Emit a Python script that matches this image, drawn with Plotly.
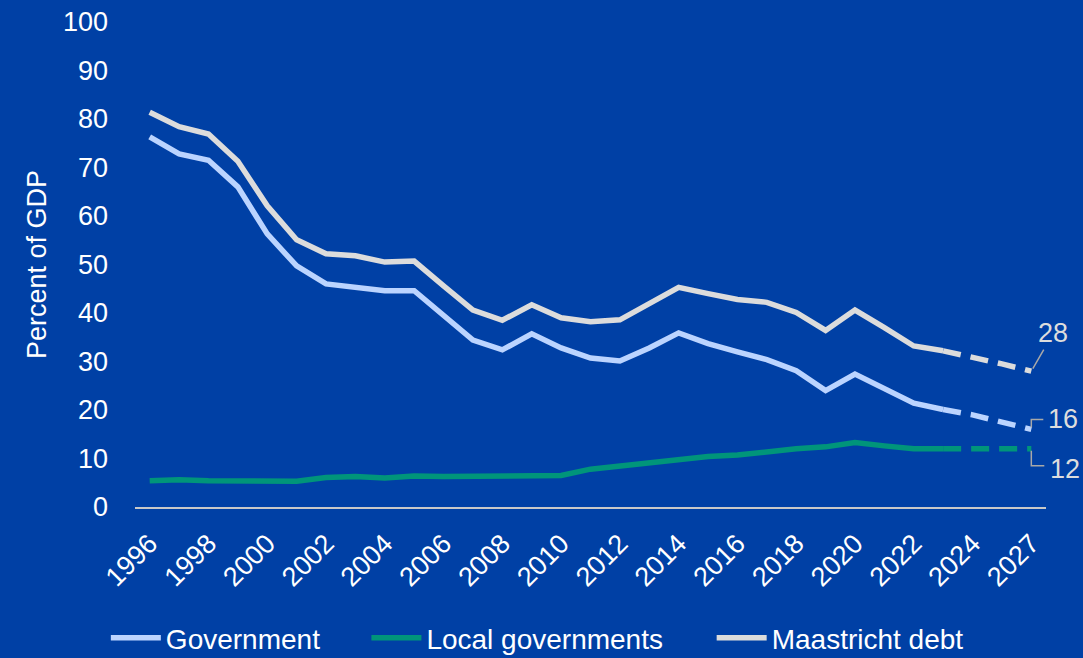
import plotly.graph_objects as go

years = [str(y) for y in range(1996, 2025)] + ["2025", "2027"]
tick_labels = [str(y) for y in range(1996, 2025, 2)] + ["2027"]

government = [76.3, 72.8, 71.5, 66.0, 56.3, 49.7, 46.0, 45.4, 44.6, 44.6,
              39.6, 34.4, 32.4, 35.7, 32.8, 30.7, 30.1, 32.8, 35.9, 33.7,
              32.0, 30.4, 28.1, 24.0, 27.4, 24.5, 21.4, 20.1, 19.0, 17.5, 16.0]
local_gov = [5.4, 5.6, 5.4, 5.4, 5.5, 5.3, 6.1, 6.3, 6.0, 6.4,
             6.3, 6.3, 6.3, 6.3, 6.5, 7.8, 8.5, 9.1, 9.7, 10.4,
             10.7, 11.4, 12.0, 12.4, 13.3, 12.6, 12.0, 12.0, 12.0, 12.0, 12.0]
maastricht = [81.4, 78.4, 76.9, 71.3, 62.1, 55.1, 52.2, 51.8, 50.5, 50.7,
              45.6, 40.6, 38.5, 41.7, 39.0, 38.2, 38.6, 41.8, 45.3, 44.0,
              42.8, 42.2, 40.1, 36.4, 40.6, 37.0, 33.2, 32.2, 30.9, 29.5, 28.0]

series = [
    ("Government", government, "#BBD4FF", "legend"),
    ("Local governments", local_gov, "#00957A", "legend2"),
    ("Maastricht debt", maastricht, "#DCDCDC", "legend3"),
]
n_actual = 28  # 1996-2023 solid, rest forecast (dashed)

BG = "#0040A5"
FONT = "Liberation Sans"

fig = go.Figure()
for name, vals, col, lg in series:
    fig.add_trace(go.Scatter(
        x=years[:n_actual], y=vals[:n_actual], mode="lines", name=name,
        legend=lg, line=dict(color=col, width=5.5), hoverinfo="skip"))
for name, vals, col, lg in series:
    fig.add_trace(go.Scatter(
        x=years[n_actual - 1:], y=vals[n_actual - 1:], mode="lines", name=name,
        showlegend=False, line=dict(color=col, width=5.5, dash="18px,10px"),
        hoverinfo="skip"))

last_idx = len(years) - 1
lbl_col = "#DDDDDD"
conn_col = "#A8A8A8"
# 28 label with straight leader
fig.add_annotation(x=last_idx, y=maastricht[-1], text=str(round(maastricht[-1])),
                   showarrow=True, arrowhead=0, arrowwidth=1.5, arrowcolor=conn_col,
                   ax=22, ay=-38, standoff=3,
                   font=dict(family=FONT, size=27, color=lbl_col))
# 16 label with elbow
fig.add_annotation(x=last_idx, y=government[-1], text=str(round(government[-1])),
                   showarrow=False, xanchor="left", xshift=15, yshift=10,
                   font=dict(family=FONT, size=27, color=lbl_col))
fig.add_shape(type="path", xref="x", yref="y", xsizemode="pixel", ysizemode="pixel",
              xanchor=last_idx, yanchor=government[-1],
              path="M0,2 L0,10 L12,10", line=dict(color=conn_col, width=1.5))
# 12 label with elbow
fig.add_annotation(x=last_idx, y=local_gov[-1], text=str(round(local_gov[-1])),
                   showarrow=False, xanchor="left", xshift=17, yshift=-20,
                   font=dict(family=FONT, size=27, color=lbl_col))
fig.add_shape(type="path", xref="x", yref="y", xsizemode="pixel", ysizemode="pixel",
              xanchor=last_idx, yanchor=local_gov[-1],
              path="M0,-2 L0,-17 L13,-17", line=dict(color=conn_col, width=1.5))

legend_common = dict(orientation="h", xanchor="left", y=-0.27, yanchor="middle",
                      font=dict(family=FONT, size=28, color="white"),
                      bgcolor="rgba(0,0,0,0)", itemwidth=50)

fig.update_layout(
    width=1083, height=658,
    paper_bgcolor=BG, plot_bgcolor=BG,
    margin=dict(l=135, r=37, t=22, b=151, autoexpand=False),
    font=dict(family=FONT, size=27, color="white"),
    showlegend=True,
    legend=dict(x=-0.032, **legend_common),
    legend2=dict(x=0.254, **legend_common),
    legend3=dict(x=0.633, **legend_common),
    xaxis=dict(type="category", categoryorder="array", categoryarray=years,
               tickmode="array", tickvals=tick_labels, ticktext=tick_labels,
               tickangle=-45, showgrid=False, zeroline=False, automargin=False,
               showline=True, linecolor="#C8C8C8", linewidth=2,
               ticks="", ticklabelstandoff=8,
               tickfont=dict(family=FONT, size=27, color="white"),
               range=[-0.5, len(years) - 0.5]),
    yaxis=dict(range=[0, 100], tickvals=list(range(0, 101, 10)),
               showgrid=False, zeroline=False, showline=False, ticks="",
               ticklabelstandoff=26, automargin=False,
               tickfont=dict(family=FONT, size=27, color="white"),
               title=dict(text="Percent of GDP", standoff=8,
                          font=dict(family=FONT, size=27, color="white"))),
)

fig.write_html("out.html")
